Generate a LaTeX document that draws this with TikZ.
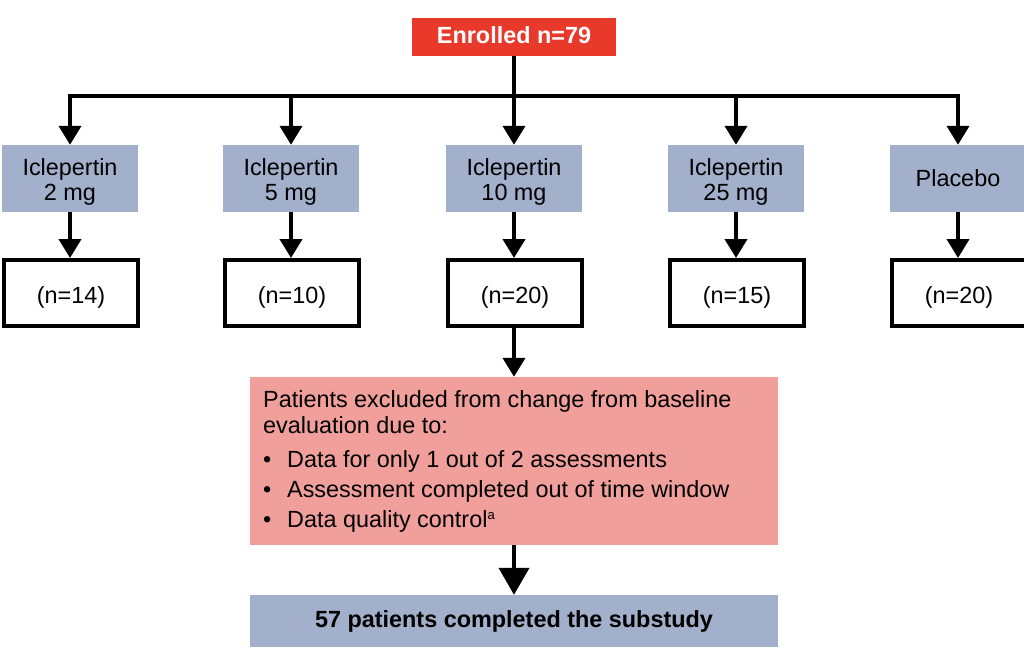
\documentclass[tikz,border=0pt]{standalone}
\usepackage{fontspec}
\setmainfont{Liberation Sans}
\usetikzlibrary{arrows.meta}
\definecolor{enred}{HTML}{E8392B}
\definecolor{armblue}{HTML}{A2B0CB}
\definecolor{expink}{HTML}{F09F9B}
\begin{document}
\begin{tikzpicture}[x=1pt,y=-1pt,
  font=\fontsize{23.4}{26}\selectfont,
  enrbox/.style={fill=enred, text=white, font=\fontsize{23.4}{26}\selectfont\bfseries, minimum width=204pt, minimum height=38pt, inner sep=0pt, text height=12.6pt, text depth=0pt},
  armbox/.style={fill=armblue, minimum width=136pt, minimum height=67pt, inner sep=0pt},
  armtxt/.style={anchor=base, inner sep=0pt},
  nbox/.style={draw=black, line width=4pt, fill=white, minimum width=134pt, minimum height=66pt, inner sep=0pt, text height=20pt, text depth=0pt},
  pinkbox/.style={fill=expink, minimum width=528pt, minimum height=168pt, inner sep=0pt},
  donebox/.style={fill=armblue, font=\fontsize{23.4}{26}\selectfont\bfseries, minimum width=528pt, minimum height=52pt, inner sep=0pt, text height=12pt, text depth=0pt},
  conn/.style={line width=4pt},
  arr/.style={line width=4pt, -{Triangle[width=22pt,length=19pt]}},
  bigarr/.style={line width=4pt, -{Triangle[width=30pt,length=27pt]}},
  txt/.style={anchor=base west, inner sep=0pt}
]
\useasboundingbox (0,0) rectangle (1024,666);

\node[enrbox] (enr) at (514,37) {Enrolled n=79};

\node[armbox] (a1) at (70,178.5) {};
\node[armbox] (a2) at (291,178.5) {};
\node[armbox] (a3) at (514,178.5) {};
\node[armbox] (a4) at (736,178.5) {};
\node[armbox] (a5) at (958,178.5) {};
\node[armtxt] (a1t) at (70,175) {Iclepertin};
\node[armtxt] (a1d) at (70,200) {2 mg};
\node[armtxt] (a2t) at (291,175) {Iclepertin};
\node[armtxt] (a2d) at (291,200) {5 mg};
\node[armtxt] (a3t) at (514,175) {Iclepertin};
\node[armtxt] (a3d) at (514,200) {10 mg};
\node[armtxt] (a4t) at (736,175) {Iclepertin};
\node[armtxt] (a4d) at (736,200) {25 mg};
\node[armtxt] (a5t) at (958,186) {Placebo};

\node[nbox] (n1) at (71,293) {(n=14)};
\node[nbox] (n2) at (292,293) {(n=10)};
\node[nbox] (n3) at (515,293) {(n=20)};
\node[nbox] (n4) at (737,293) {(n=15)};
\node[nbox] (n5) at (959,293) {(n=20)};

\node[pinkbox] (excl) at (514,461) {};
\node[txt] (l1) at (263,407) {Patients excluded from change from baseline};
\node[txt] (l2) at (263,433) {evaluation due to:};
\node[txt] (l3) at (263,467) {\makebox[24pt][l]{•}Data for only 1 out of 2 assessments};
\node[txt] (l4) at (263,497) {\makebox[24pt][l]{•}Assessment completed out of time window};
\node[txt] (l5) at (263,527) {\makebox[24pt][l]{•}Data quality control\raisebox{8pt}{\fontsize{13}{13}\selectfont a}};

\node[donebox] (done) at (514,621) {57 patients completed the substudy};

\coordinate (hub) at (514,96);
\draw[conn, line cap=rect] (a1.north |- hub) -- (a5.north |- hub);
\draw[arr] (enr.south) -- (a3.north);
\draw[arr] (a1.north |- hub) -- (a1.north);
\draw[arr] (a2.north |- hub) -- (a2.north);
\draw[arr] (a4.north |- hub) -- (a4.north);
\draw[arr] (a5.north |- hub) -- (a5.north);

\draw[arr] (a1.south) -- (a1.south |- n1.north);
\draw[arr] (a2.south) -- (a2.south |- n2.north);
\draw[arr] (a3.south) -- (a3.south |- n3.north);
\draw[arr] (a4.south) -- (a4.south |- n4.north);
\draw[arr] (a5.south) -- (a5.south |- n5.north);

\draw[arr] (n3.south -| excl.north) -- (excl.north);
\draw[bigarr] (excl.south) -- (done.north);
\end{tikzpicture}
\end{document}
